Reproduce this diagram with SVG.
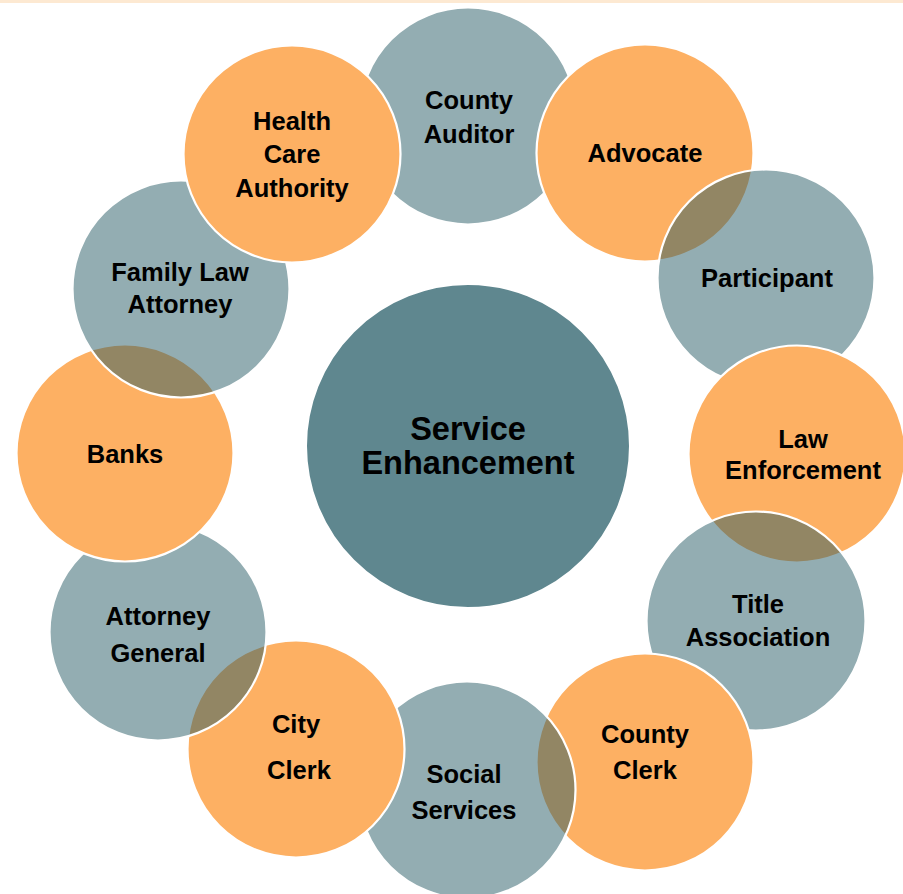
<svg xmlns="http://www.w3.org/2000/svg" width="903" height="894" viewBox="0 0 903 894">
<style>
.o{fill:#FDB063;stroke:#FFFFFF;stroke-width:2.2}
.b{fill:#275B65;fill-opacity:0.5;stroke:#FFFFFF;stroke-width:2.2}
.c{fill:#5F878F;stroke:#FFFFFF;stroke-width:2}
.t{font-family:"Liberation Sans",Arial,sans-serif;font-weight:bold;font-size:25.5px;fill:#000;text-anchor:middle}
.tc{font-family:"Liberation Sans",Arial,sans-serif;font-weight:bold;font-size:32.5px;fill:#000;text-anchor:middle}
</style>
<rect x="0" y="0" width="903" height="894" fill="#FFFFFF"/>
<rect x="0" y="0" width="903" height="3" fill="#FDE9D2"/>
<g id="connectors"></g>
<g id="center">
<circle class="c" cx="468" cy="446" r="162"/>
<text class="tc" x="468" y="440">Service</text>
<text class="tc" x="468" y="474">Enhancement</text>
</g>
<g id="county-auditor">
<circle class="b" cx="468" cy="116" r="108.5"/>
<text class="t" x="469" y="109">County</text>
<text class="t" x="469" y="143">Auditor</text>
</g>
<g id="advocate">
<circle class="o" cx="645" cy="153" r="108.5"/>
<text class="t" x="645" y="162">Advocate</text>
</g>
<g id="participant">
<circle class="b" cx="766" cy="278" r="108.5"/>
<text class="t" x="767" y="287">Participant</text>
</g>
<g id="law-enforcement">
<circle class="o" cx="797" cy="454" r="108.5"/>
<text class="t" x="803" y="448">Law</text>
<text class="t" x="803" y="479">Enforcement</text>
</g>
<g id="title-association">
<circle class="b" cx="756" cy="621" r="109.5"/>
<text class="t" x="758" y="613">Title</text>
<text class="t" x="758" y="646">Association</text>
</g>
<g id="county-clerk">
<circle class="o" cx="645" cy="762" r="108.5"/>
<text class="t" x="645" y="743">County</text>
<text class="t" x="645" y="779">Clerk</text>
</g>
<g id="social-services">
<circle class="b" cx="467" cy="790" r="108.5"/>
<text class="t" x="464" y="783">Social</text>
<text class="t" x="464" y="819">Services</text>
</g>
<g id="city-clerk">
<circle class="o" cx="296" cy="749" r="108.5"/>
<text class="t" x="296" y="733">City</text>
<text class="t" x="299" y="779">Clerk</text>
</g>
<g id="attorney-general">
<circle class="b" cx="158" cy="632" r="108.5"/>
<text class="t" x="158" y="625">Attorney</text>
<text class="t" x="158" y="662">General</text>
</g>
<g id="banks">
<circle class="o" cx="125" cy="453" r="108.5"/>
<text class="t" x="125" y="463">Banks</text>
</g>
<g id="family-law-attorney">
<circle class="b" cx="181" cy="289" r="108.5"/>
<text class="t" x="180" y="281">Family Law</text>
<text class="t" x="180" y="313">Attorney</text>
</g>
<g id="health-care-authority">
<circle class="o" cx="292" cy="154" r="108.5"/>
<text class="t" x="292" y="130">Health</text>
<text class="t" x="292" y="163">Care</text>
<text class="t" x="292" y="197">Authority</text>
</g>
</svg>
